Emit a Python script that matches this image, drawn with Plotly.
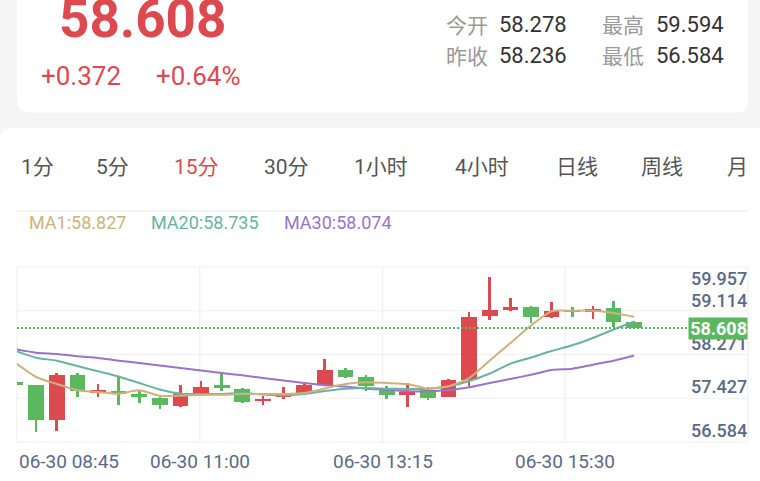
import plotly.graph_objects as go

W, H = 760, 481

# ---------------- data ----------------
times = ["08:45", "09:00", "09:15", "09:30", "09:45", "10:00", "10:15", "10:30",
         "10:45", "11:00", "11:15", "11:30", "11:45", "12:00", "12:15", "12:30",
         "12:45", "13:00", "13:15", "13:30", "13:45", "14:00", "14:15", "14:30",
         "14:45", "15:00", "15:15", "15:30", "15:45", "16:00", "16:15"]
date_label = "06-30"
opens = [57.56, 57.50, 56.83, 57.70, 57.353, 57.38, 57.334, 57.25, 57.101, 57.328,
         57.497, 57.431, 57.186, 57.264, 57.347, 57.497, 57.788, 57.652, 57.444, 57.302,
         57.411, 57.264, 57.605, 58.836, 58.965, 59.011, 58.817, 58.953, 58.914, 58.998,
         58.726]
highs = [57.56, 57.50, 57.735, 57.73, 57.522, 57.671, 57.411, 57.26, 57.508, 57.586,
         57.716, 57.444, 57.295, 57.464, 57.541, 58.007, 57.833, 57.702, 57.477, 57.541,
         57.458, 57.619, 58.92, 59.594, 59.192, 59.031, 59.114, 59.023, 59.031, 59.128,
         58.74]
lows = [57.50, 56.584, 56.615, 57.264, 57.275, 57.12, 57.153, 57.042, 57.081, 57.32,
        57.392, 57.153, 57.12, 57.236, 57.347, 57.497, 57.638, 57.392, 57.236, 57.069,
        57.217, 57.264, 57.477, 58.759, 58.934, 58.706, 58.80, 58.823, 58.79, 58.623,
        58.60]
closes = [57.50, 56.83, 57.70, 57.39, 57.40, 57.328, 57.275, 57.108, 57.328, 57.464,
          57.444, 57.172, 57.236, 57.347, 57.497, 57.80, 57.658, 57.477, 57.302, 57.361,
          57.25, 57.594, 58.817, 58.953, 59.011, 58.823, 58.934, 58.914, 58.978, 58.726,
          58.608]
ma1 = [57.930, 57.658, 57.522, 57.400, 57.367, 57.334, 57.400, 57.295, 57.295, 57.308,
       57.314, 57.328, 57.328, 57.328, 57.347, 57.435, 57.522, 57.555, 57.541, 57.522,
       57.431, 57.477, 57.638, 57.978, 58.318, 58.658, 58.934, 58.945, 58.945, 58.901,
       58.827]
ma20 = [58.162, 58.033, 57.974, 57.871, 57.768, 57.667, 57.541, 57.415, 57.334, 57.328,
        57.328, 57.347, 57.318, 57.299, 57.328, 57.386, 57.431, 57.444, 57.431, 57.425,
        57.431, 57.477, 57.580, 57.726, 57.916, 58.036, 58.162, 58.273, 58.415, 58.580,
        58.735]
ma30 = [58.196, 58.130, 58.104, 58.060, 58.027, 57.974, 57.930, 57.881, 57.833, 57.784,
        57.735, 57.691, 57.638, 57.590, 57.541, 57.497, 57.473, 57.431, 57.411, 57.380,
        57.380, 57.400, 57.458, 57.541, 57.619, 57.702, 57.794, 57.819, 57.897, 57.974,
        58.074]
y_tick_labels = ["56.584", "57.427", "58.271", "59.114", "59.957"]
x_tick_index = [0, 9, 18, 27]

last_price = "58.608"
change_abs = "+0.372"
change_pct = "+0.64%"
info_labels = [["今开", "最高"], ["昨收", "最低"]]
info_values = [["58.278", "59.594"], ["58.236", "56.584"]]
tabs = ["1分", "5分", "15分", "30分", "1小时", "4小时", "日线", "周线", "月"]
active_tab = "15分"
ma_names = ["MA1", "MA20", "MA30"]

# ---------------- style ----------------
RED = "#dc4a50"
GREEN = "#5cb85f"
C_MA1 = "#cdb27e"
C_MA20 = "#6ab3a3"
C_MA30 = "#9b74c8"
AXIS_TXT = "#5b6a86"
GRID = "#f0f0f0"
NARROW = "Liberation Sans Narrow, Roboto, sans-serif"


def px(x):
    return x / W


def py(y):
    return 1 - y / H


def rrect(x0, y0, x1, y1, r):
    a, b, c, d = px(x0), py(y0), px(x1), py(y1)
    rx, ry = r / W, r / H
    return (f"M {a+rx},{b} L {c-rx},{b} Q {c},{b} {c},{b-ry} L {c},{d+ry} "
            f"Q {c},{d} {c-rx},{d} L {a+rx},{d} Q {a},{d} {a},{d+ry} "
            f"L {a},{b-ry} Q {a},{b} {a+rx},{b} Z")


n = len(closes)
idx = list(range(n))
cols = [RED if closes[i] >= opens[i] else GREEN for i in idx]

fig = go.Figure()

# wicks
fig.add_trace(go.Bar(
    x=idx, base=lows, y=[highs[i] - lows[i] for i in idx], width=0.13,
    marker=dict(color=cols, line=dict(width=0)), hoverinfo="skip"))
# bodies
fig.add_trace(go.Bar(
    x=idx, base=[min(opens[i], closes[i]) for i in idx],
    y=[max(abs(closes[i] - opens[i]), 0.035) for i in idx], width=0.76,
    marker=dict(color=cols, line=dict(width=0)), hoverinfo="skip"))

for vals, col in [(ma30, C_MA30), (ma20, C_MA20), (ma1, C_MA1)]:
    fig.add_trace(go.Scatter(x=idx, y=vals, mode="lines",
                             line=dict(color=col, width=2, shape="spline", smoothing=0.6),
                             hoverinfo="skip"))

shapes = []
annotations = []

# cards
shapes.append(dict(type="path", xref="paper", yref="paper", path=rrect(17, -20, 748, 112.5, 12),
                   fillcolor="white", line=dict(width=0), layer="below"))
shapes.append(dict(type="path", xref="paper", yref="paper", path=rrect(0, 128, 775, 500, 12),
                   fillcolor="white", line=dict(width=0), layer="below"))
# divider under tabs
shapes.append(dict(type="line", xref="paper", yref="paper", x0=px(17), x1=px(748),
                   y0=py(211), y1=py(211), line=dict(color="#efefef", width=1.5), layer="below"))

# grid
for f in [0, 0.25, 0.5, 0.75, 1]:
    shapes.append(dict(type="line", xref="x domain", yref="y domain", x0=0, x1=1, y0=f, y1=f,
                       line=dict(color=GRID, width=1.2), layer="below"))
    shapes.append(dict(type="line", xref="x domain", yref="y domain", x0=f, x1=f, y0=0, y1=1,
                       line=dict(color=GRID, width=1.2), layer="below"))

# current price line
cur = closes[-1]
shapes.append(dict(type="line", xref="x domain", yref="y", x0=0, x1=1, y0=cur, y1=cur,
                   line=dict(color=GREEN, width=2, dash="2px,2px")))

# y labels
for i, t in enumerate(y_tick_labels):
    if i < 4:
        annotations.append(dict(text=t, xref="paper", yref="y", x=px(749), y=float(t),
                                xanchor="right", yanchor="middle", yshift=2, showarrow=False,
                                font=dict(family="Roboto", size=18, color=AXIS_TXT, weight=500)))
    else:
        annotations.append(dict(text=t, xref="paper", yref="paper", x=px(749), y=py(278),
                                xanchor="right", yanchor="middle", showarrow=False,
                                font=dict(family="Roboto", size=18, color=AXIS_TXT, weight=500)))
# current price tag (drawn over the labels)
annotations.append(dict(text=f"{cur:.3f}", xref="paper", yref="y", x=px(748), y=cur,
                        xanchor="right", yanchor="middle", showarrow=False,
                        width=58, height=21, bgcolor=GREEN, borderpad=0, align="right",
                        font=dict(family="Roboto", size=18, color="white", weight=700)))

# x labels
for k, i in enumerate(x_tick_index):
    f = k * 0.25
    annotations.append(dict(text=f"{date_label} {times[i]}", xref="x domain", yref="paper",
                            x=f if k else 0, y=py(461), xanchor="center" if k else "left",
                            xshift=0 if k else 0, yanchor="middle", showarrow=False,
                            font=dict(family=NARROW, size=19, color=AXIS_TXT)))

# MA legend
ma_last = [ma1[-1], ma20[-1], ma30[-1]]
ma_x = [27, 149, 282]
for name, v, col, x in zip(ma_names, ma_last, [C_MA1, C_MA20, C_MA30], ma_x):
    annotations.append(dict(text=f"{name}:{v:.3f}", xref="paper", yref="paper", x=px(x), y=py(222),
                            xanchor="left", yanchor="middle", showarrow=False,
                            font=dict(family=NARROW, size=18, color=col)))

# tabs
tab_x = [37, 113, 197, 286, 381, 482, 577, 662, 737]
for t, x in zip(tabs, tab_x):
    annotations.append(dict(text=t, xref="paper", yref="paper", x=px(x), y=py(167),
                            xanchor="center", yanchor="middle", showarrow=False,
                            font=dict(family="Roboto, Noto Sans CJK SC", size=21,
                                      color=RED if t == active_tab else "#555555")))

# header
annotations.append(dict(text=f"<b>{last_price}</b>", xref="paper", yref="paper", x=px(142), y=py(19),
                        xanchor="center", yanchor="middle", showarrow=False,
                        font=dict(family="Roboto", size=53, color=RED)))
annotations.append(dict(text=change_abs, xref="paper", yref="paper", x=px(39), y=py(76),
                        xanchor="left", yanchor="middle", showarrow=False,
                        font=dict(family="Roboto", size=26, color=RED)))
annotations.append(dict(text=change_pct, xref="paper", yref="paper", x=px(154), y=py(76),
                        xanchor="left", yanchor="middle", showarrow=False,
                        font=dict(family="Roboto", size=26, color=RED)))
row_y = [24, 55]
lab_x = [444, 600]
val_x = [497, 654]
for r in range(2):
    for c in range(2):
        annotations.append(dict(text=info_labels[r][c], xref="paper", yref="paper",
                                x=px(lab_x[c]), y=py(row_y[r]), xanchor="left", yanchor="middle",
                                showarrow=False,
                                font=dict(family="Noto Sans CJK SC", size=21, color="#9a9a9a")))
        annotations.append(dict(text=info_values[r][c], xref="paper", yref="paper",
                                x=px(val_x[c]), y=py(row_y[r]), xanchor="left", yanchor="middle",
                                showarrow=False,
                                font=dict(family="Roboto", size=22, color="#333333")))

ppu = 20.62
r0 = (17 - 15.5) / ppu
r1 = r0 + 731 / ppu
ypu = 51.5
y_lo = 56.584 - (442 - 432.3) / ypu
y_hi = 56.584 + (432.3 - 267) / ypu

fig.update_layout(
    width=W, height=H, margin=dict(l=0, r=0, t=0, b=0),
    paper_bgcolor="#f5f5f5", plot_bgcolor="rgba(0,0,0,0)",
    showlegend=False, barmode="overlay", bargap=0,
    xaxis=dict(domain=[px(17), px(748)], range=[r0, r1], visible=False, fixedrange=True),
    yaxis=dict(domain=[py(442), py(267)], range=[y_lo, y_hi], visible=False, fixedrange=True),
    shapes=shapes, annotations=annotations,
)

fig.write_html("out.html")
